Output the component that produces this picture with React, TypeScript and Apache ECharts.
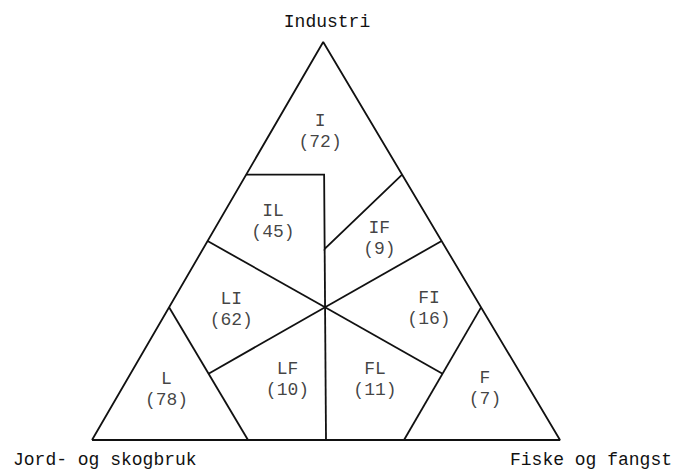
import React, { useEffect, useRef } from "react";
import * as echarts from "echarts";

// Regions of the ternary diagram (I = Industri, L = Jord- og skogbruk, F = Fiske og fangst)
const regionNames = ["I", "IL", "IF", "LI", "FI", "L", "LF", "FL", "F"];
const regionCounts = [72, 45, 9, 62, 16, 78, 10, 11, 7];
// Label anchor of each region, as ternary shares (Industri share, Fiske share)
const labelIndustri = [0.774, 0.548, 0.506, 0.329, 0.33, 0.126, 0.151, 0.151, 0.129];
const labelFiske = [0.105, 0.116, 0.364, 0.135, 0.557, 0.097, 0.343, 0.53, 0.776];

// Triangle corners as [Industri share, Fiske share]
const outline: number[][] = [
  [0, 0],
  [0, 1],
  [1, 0],
  [0, 0],
];

// Region boundaries as [Industri share, Fiske share] points
const boundaries: number[][][] = [
  [[2 / 3, 0], [2 / 3, 1 / 6], [0.48, 0.26], [2 / 3, 1 / 3]],
  [[0.48, 0.26], [0, 0.5]],
  [[0.5, 0], [1 / 3, 1 / 3]],
  [[0.5, 0.5], [1 / 3, 1 / 3]],
  [[1 / 3, 1 / 3], [1 / 6, 1 / 6]],
  [[1 / 3, 1 / 3], [1 / 6, 2 / 3]],
  [[1 / 3, 0], [0, 1 / 3]],
  [[1 / 3, 2 / 3], [0, 2 / 3]],
];

const cornerTitles = ["Industri", "Jord- og skogbruk", "Fiske og fangst"];

const APEX_X = 0.494;
const toXY = (p: number[]) => [p[1] + APEX_X * p[0], p[0]];

const FONT = "'Liberation Mono', 'DejaVu Sans Mono', monospace";
const INK = "#111111";

export default function App() {
  const ref = useRef<HTMLDivElement>(null);

  useEffect(() => {
    document.body.style.margin = "0";
    document.body.style.background = "#ffffff";
    if (!ref.current) return;
    const chart = echarts.init(ref.current, undefined, { renderer: "svg" });

    const labelData = regionNames.map((name, i) => ({
      name,
      value: [...toXY([labelIndustri[i], labelFiske[i]]), regionCounts[i]],
    }));

    chart.setOption({
      animation: false,
      backgroundColor: "#ffffff",
      grid: { left: 92, top: 42, width: 468, height: 398 },
      xAxis: { type: "value", min: 0, max: 1, show: false },
      yAxis: { type: "value", min: 0, max: 1, show: false },
      series: [
        {
          type: "line",
          data: outline.map(toXY),
          symbol: "none",
          clip: false,
          silent: true,
          lineStyle: { color: INK, width: 1.8 },
        },
        {
          type: "lines",
          coordinateSystem: "cartesian2d",
          polyline: true,
          silent: true,
          clip: false,
          data: boundaries.map((b) => ({ coords: b.map(toXY) })),
          lineStyle: { color: INK, width: 1.8, opacity: 1 },
        },
        {
          type: "scatter",
          symbolSize: 1,
          silent: true,
          itemStyle: { color: "rgba(0,0,0,0)" },
          data: labelData,
          label: {
            show: true,
            position: "inside",
            formatter: (p: any) => `${p.name}\n(${p.value[2]})`,
            fontFamily: FONT,
            fontSize: 18,
            lineHeight: 21,
            color: INK,
            align: "center",
            verticalAlign: "middle",
          },
        },
      ],
      graphic: [
        {
          type: "text",
          x: 327,
          y: 22,
          style: {
            text: cornerTitles[0],
            font: `18px ${FONT}`,
            fill: INK,
            align: "center",
            verticalAlign: "middle",
          },
        },
        {
          type: "text",
          x: 13,
          y: 460,
          style: {
            text: cornerTitles[1],
            font: `18px ${FONT}`,
            fill: INK,
            align: "left",
            verticalAlign: "middle",
          },
        },
        {
          type: "text",
          x: 510,
          y: 460,
          style: {
            text: cornerTitles[2],
            font: `18px ${FONT}`,
            fill: INK,
            align: "left",
            verticalAlign: "middle",
          },
        },
      ],
    });

    return () => chart.dispose();
  }, []);

  return <div ref={ref} style={{ width: 674, height: 470 }} />;
}
